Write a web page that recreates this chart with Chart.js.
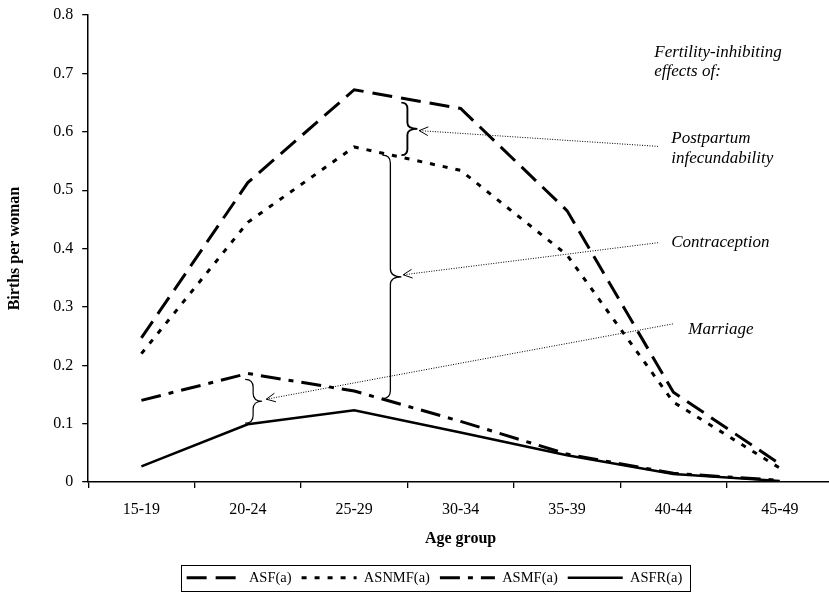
<!DOCTYPE html>
<html>
<head>
<meta charset="utf-8">
<title>Age-specific fertility</title>
<script src="https://cdn.jsdelivr.net/npm/chart.js@4.4.1/dist/chart.umd.min.js"></script>
<style>
  html, body { margin: 0; padding: 0; background: #fff; overflow: hidden; }
  canvas { display: block; }
</style>
</head>
<body>
<canvas id="chart" width="840" height="606"></canvas>
<script>
// Age groups on the horizontal axis
const ageGroups = ['15-19', '20-24', '25-29', '30-34', '35-39', '40-44', '45-49'];

// Births per woman by age group
const asf   = [0.247, 0.513, 0.672, 0.640, 0.465, 0.154, 0.031];
const asnmf = [0.220, 0.445, 0.574, 0.534, 0.389, 0.137, 0.024];
const asmf  = [0.140, 0.186, 0.156, 0.104, 0.048, 0.015, 0.003];
const asfr  = [0.027, 0.099, 0.123, 0.085, 0.046, 0.014, 0.002];

const seriesNames = ['ASF(a)', 'ASNMF(a)', 'ASMF(a)', 'ASFR(a)'];

// Annotation labels (x as category index, y in births per woman)
const noteTexts = [
  { text: 'Fertility-inhibiting', x: 4.82, y: 0.735 },
  { text: 'effects of:',          x: 4.82, y: 0.703 },
  { text: 'Postpartum',           x: 4.98, y: 0.589 },
  { text: 'infecundability',      x: 4.98, y: 0.554 },
  { text: 'Contraception',        x: 4.98, y: 0.410 },
  { text: 'Marriage',             x: 5.14, y: 0.262 }
];

// Braces marking the gap between two curves
const braces = [
  { x: 2.50, top: 0.650, bottom: 0.560, hook: 6, tip: 10, width: 1.9 },
  { x: 2.34, top: 0.560, bottom: 0.143, hook: 8, tip: 11, width: 1.3 },
  { x: 1.05, top: 0.176, bottom: 0.101, hook: 8, tip: 9,  width: 1.2 }
];

// Dotted pointers from each label to its brace
const pointers = [
  { from: [4.855, 0.575], to: [2.61, 0.602] },
  { from: [4.855, 0.410], to: [2.46, 0.355] },
  { from: [4.995, 0.271], to: [1.174, 0.142] }
];

const SERIF = '"Liberation Serif", "Times New Roman", serif';
const legendShift = 18; // legend sits a little right of centre

const annotationPlugin = {
  id: 'effectNotes',
  afterLayout(chart) {
    const lg = chart.legend;
    if (lg) { lg.left += legendShift; lg.right += legendShift; }
  },
  afterDatasetsDraw(chart) {
    const { ctx, scales: { x, y } } = chart;
    const px = v => x.getPixelForValue(v);
    const py = v => y.getPixelForValue(v);
    ctx.save();
    ctx.strokeStyle = '#000';
    ctx.fillStyle = '#000';

    // braces
    braces.forEach(b => {
      const sx = px(b.x), t = py(b.top), bt = py(b.bottom), m = (t + bt) / 2;
      const r = b.hook;
      ctx.beginPath();
      ctx.lineWidth = b.width;
      ctx.setLineDash([]);
      ctx.moveTo(sx - r, t);
      ctx.quadraticCurveTo(sx, t, sx, t + r);
      ctx.lineTo(sx, m - r);
      ctx.quadraticCurveTo(sx, m, sx + b.tip, m);
      ctx.quadraticCurveTo(sx, m, sx, m + r);
      ctx.lineTo(sx, bt - r);
      ctx.quadraticCurveTo(sx, bt, sx - r, bt);
      ctx.stroke();
    });

    // dotted pointers with open arrowheads
    pointers.forEach(p => {
      const x0 = px(p.from[0]), y0 = py(p.from[1]);
      const x1 = px(p.to[0]), y1 = py(p.to[1]);
      ctx.beginPath();
      ctx.lineWidth = 1;
      ctx.setLineDash([1, 1.5]);
      ctx.moveTo(x0, y0);
      ctx.lineTo(x1, y1);
      ctx.stroke();
      const ang = Math.atan2(y0 - y1, x0 - x1);
      const len = 10, spread = 0.45;
      ctx.beginPath();
      ctx.setLineDash([]);
      ctx.moveTo(x1 + len * Math.cos(ang - spread), y1 + len * Math.sin(ang - spread));
      ctx.lineTo(x1, y1);
      ctx.lineTo(x1 + len * Math.cos(ang + spread), y1 + len * Math.sin(ang + spread));
      ctx.stroke();
    });

    // labels
    ctx.font = 'italic 17px ' + SERIF;
    ctx.textAlign = 'left';
    ctx.textBaseline = 'middle';
    noteTexts.forEach(n => ctx.fillText(n.text, px(n.x), py(n.y)));
    ctx.restore();
  },
  afterDraw(chart) {
    // frame around the legend
    const boxes = chart.legend && chart.legend.legendHitBoxes;
    if (!boxes || !boxes.length) return;
    const left = Math.min(...boxes.map(b => b.left)) - 6;
    const right = Math.max(...boxes.map(b => b.left + b.width)) + 7;
    const top = Math.min(...boxes.map(b => b.top)) - 6;
    const bottom = Math.max(...boxes.map(b => b.top + b.height)) + 5;
    const ctx = chart.ctx;
    ctx.save();
    ctx.strokeStyle = '#000';
    ctx.lineWidth = 1;
    ctx.setLineDash([]);
    ctx.strokeRect(Math.round(left) + 0.5, Math.round(top) + 0.5, Math.round(right - left), Math.round(bottom - top));
    ctx.restore();
  }
};

const styles = [
  { dash: [20, 9],        width: 3 },
  { dash: [5, 8],         width: 3 },
  { dash: [20, 8, 5, 8],  width: 3 },
  { dash: [],             width: 2.5 }
];

const seriesData = [asf, asnmf, asmf, asfr];

new Chart(document.getElementById('chart'), {
  type: 'line',
  data: {
    labels: ageGroups,
    datasets: seriesData.map((d, i) => ({
      label: seriesNames[i],
      data: d,
      borderColor: '#000',
      backgroundColor: '#000',
      borderWidth: styles[i].width,
      borderDash: styles[i].dash,
      pointRadius: 0,
      fill: false,
      tension: 0
    }))
  },
  options: {
    responsive: false,
    animation: false,
    devicePixelRatio: 1,
    layout: { padding: { top: 9, right: 7, bottom: 11, left: 0 } },
    plugins: {
      tooltip: { enabled: false },
      legend: {
        position: 'bottom',
        labels: {
          usePointStyle: true,
          pointStyle: 'line',
          pointStyleWidth: 55,
          boxHeight: 12,
          padding: 10,
          color: '#000',
          font: { family: SERIF, size: 14.5 },
          generateLabels(chart) {
            const items = Chart.defaults.plugins.legend.labels.generateLabels(chart);
            items.forEach(it => {
              const ds = chart.data.datasets[it.datasetIndex];
              it.lineDash = ds.borderDash;
              it.lineWidth = ds.borderWidth;
              it.strokeStyle = ds.borderColor;
              it.pointStyle = 'line';
            });
            return items;
          }
        }
      }
    },
    scales: {
      x: {
        offset: true,
        grid: { offset: true, drawOnChartArea: false, color: '#000', tickLength: 6, lineWidth: 1.3 },
        border: { color: '#000', width: 1.5 },
        ticks: { color: '#000', padding: 12, maxRotation: 0, font: { family: SERIF, size: 16 } },
        title: {
          display: true, text: 'Age group', color: '#000',
          font: { family: SERIF, size: 16, weight: 'bold', lineHeight: 1 },
          padding: { top: 0, bottom: 13.2 }
        }
      },
      y: {
        min: 0, max: 0.8,
        grid: { drawOnChartArea: false, color: '#000', tickLength: 6, lineWidth: 1.3 },
        border: { color: '#000', width: 1.5 },
        ticks: {
          stepSize: 0.1, color: '#000', padding: 9,
          font: { family: SERIF, size: 16, lineHeight: 0.75 },
          callback: v => String(Math.round(v * 10) / 10)
        },
        title: {
          display: true, text: 'Births per woman', color: '#000',
          font: { family: SERIF, size: 16, weight: 'bold' },
          padding: { top: 5, bottom: 20 }
        }
      }
    }
  },
  plugins: [annotationPlugin]
});
</script>
</body>
</html>
